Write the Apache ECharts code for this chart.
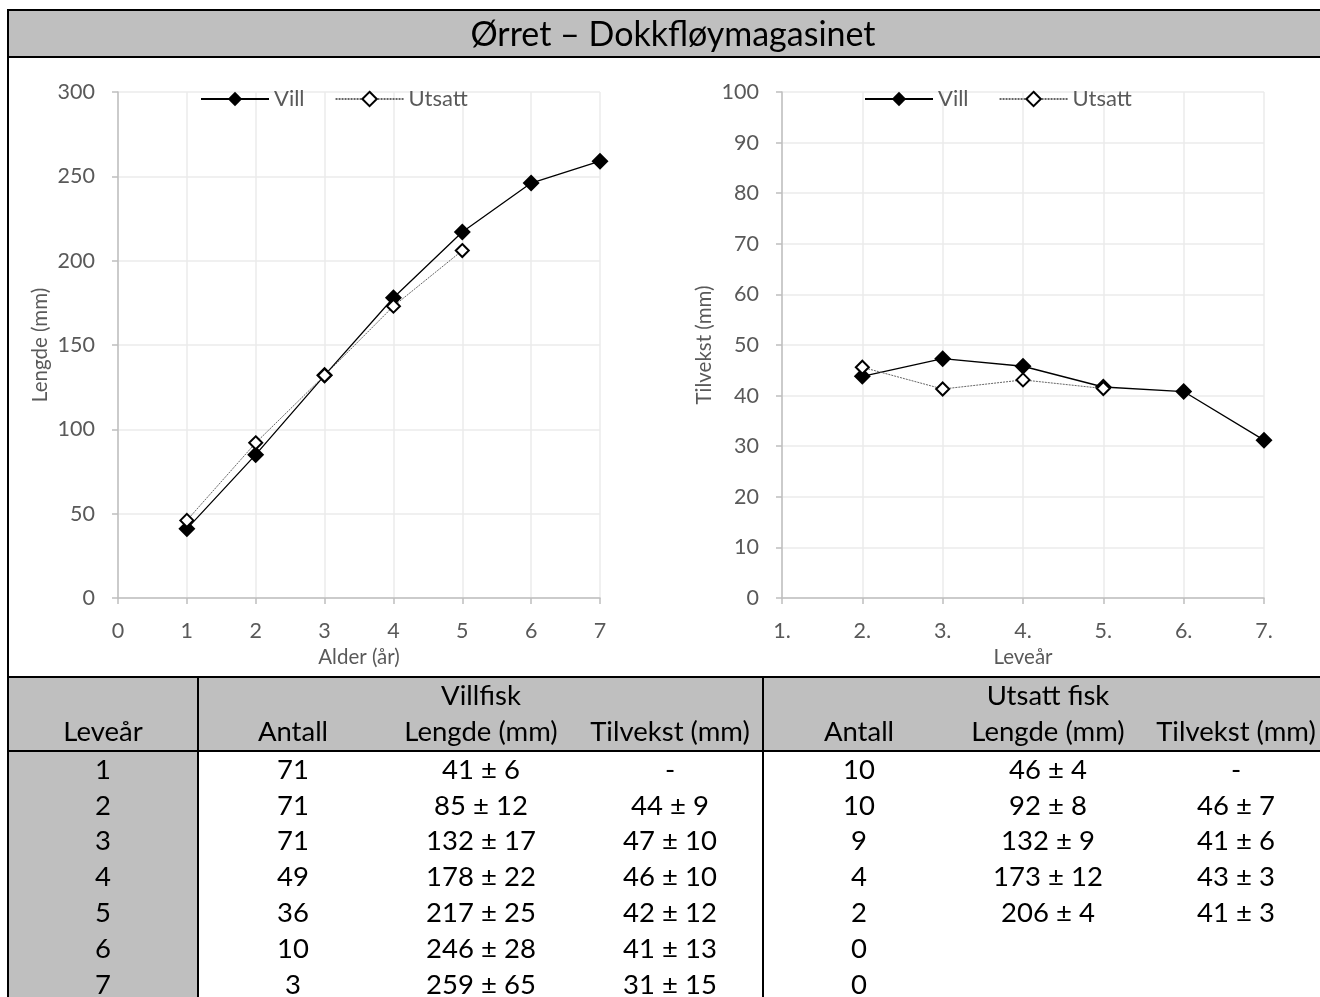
<!DOCTYPE html>
<html>
<head>
<meta charset="utf-8">
<script src="https://cdn.jsdelivr.net/npm/echarts@6/dist/echarts.min.js"></script>
<style>
html,body{margin:0;padding:0;background:#fff;}
#chart{width:1320px;height:997px;}
</style>
</head>
<body>
<div id="chart"></div>
<script>
// ---- chart data ----
const titleText = 'Ørret – Dokkfløymagasinet';
const ageTicks = [0, 1, 2, 3, 4, 5, 6, 7];
const villAge = [1, 2, 3, 4, 5, 6, 7];
const villLength = [41, 85, 132, 178, 217, 246, 259];
const utsattAge = [1, 2, 3, 4, 5];
const utsattLength = [46, 92, 132, 173, 206];
const villGrowthYear = [2, 3, 4, 5, 6, 7];
const villGrowth = [43.8, 47.3, 45.8, 41.7, 40.8, 31.2];
const utsattGrowthYear = [2, 3, 4, 5];
const utsattGrowth = [45.6, 41.3, 43.1, 41.4];

// ---- table data ----
const tableYears = ['1', '2', '3', '4', '5', '6', '7'];
const villAntall = ['71', '71', '71', '49', '36', '10', '3'];
const villLengde = ['41 ± 6', '85 ± 12', '132 ± 17', '178 ± 22', '217 ± 25', '246 ± 28', '259 ± 65'];
const villTilvekst = ['-', '44 ± 9', '47 ± 10', '46 ± 10', '42 ± 12', '41 ± 13', '31 ± 15'];
const utsattAntall = ['10', '10', '9', '4', '2', '0', '0'];
const utsattLengde = ['46 ± 4', '92 ± 8', '132 ± 9', '173 ± 12', '206 ± 4', '', ''];
const utsattTilvekst = ['-', '46 ± 7', '41 ± 6', '43 ± 3', '41 ± 3', '', ''];
const groupHeaders = ['Villfisk', 'Utsatt fisk'];
const colHeaders = ['Leveår', 'Antall', 'Lengde (mm)', 'Tilvekst (mm)', 'Antall', 'Lengde (mm)', 'Tilvekst (mm)'];

const FONT = 'Lato, "Noto Sans", sans-serif';
const GRAY = '#BFBFBF';
const LABEL = '#595959';

function pairs(xs, ys) { return xs.map((x, i) => [x, ys[i]]); }

// ---- graphic: frame, title band, table ----
const g = [];
g.push({type: 'rect', shape: {x: 8, y: 9, width: 1320, height: 48}, style: {fill: GRAY}, z: 0});
g.push({type: 'rect', shape: {x: 8, y: 677, width: 1320, height: 74}, style: {fill: GRAY}, z: 0});
g.push({type: 'rect', shape: {x: 8, y: 751, width: 190, height: 250}, style: {fill: GRAY}, z: 0});
function hline(y, x1, x2) { g.push({type: 'line', shape: {x1: x1, y1: y, x2: x2, y2: y}, style: {stroke: '#000', lineWidth: 2}, z: 5}); }
function vline(x, y1, y2) { g.push({type: 'line', shape: {x1: x, y1: y1, x2: x, y2: y2}, style: {stroke: '#000', lineWidth: 2}, z: 5}); }
hline(10, 8, 1320);
hline(57, 8, 1320);
hline(677, 8, 1320);
hline(751, 8, 1320);
vline(8, 9, 997);
vline(198, 677, 997);
vline(763, 677, 997);
g.push({type: 'text', x: 673, y: 35, style: {text: titleText, font: '34px ' + FONT, fill: '#000', align: 'center', verticalAlign: 'middle'}, z: 6});

const colX = [103, 293, 481, 670, 859, 1048, 1236];
const rowY = [770, 806, 841, 877, 913, 949, 985];
function cell(txt, x, y) {
  g.push({type: 'text', x: x, y: y, style: {text: txt, font: '27.5px ' + FONT, fill: '#000', align: 'center', verticalAlign: 'middle'}, z: 6});
}
cell(groupHeaders[0], colX[2], 696);
cell(groupHeaders[1], colX[5], 696);
colHeaders.forEach((h, i) => cell(h, colX[i], 732));
const cols = [tableYears, villAntall, villLengde, villTilvekst, utsattAntall, utsattLengde, utsattTilvekst];
cols.forEach((col, ci) => col.forEach((v, ri) => { if (v !== '') cell(v, colX[ci], rowY[ri]); }));

// ---- axes ----
function yAxis(gridIndex, max, interval, name) {
  return {
    type: 'value', gridIndex: gridIndex, min: 0, max: max, interval: interval,
    name: name, nameLocation: 'middle', nameGap: 67,
    nameTextStyle: {fontFamily: FONT, fontSize: 20.5, color: LABEL},
    axisLine: {show: true, lineStyle: {color: GRAY, width: 1.5}},
    axisTick: {show: true, length: 6, lineStyle: {color: GRAY, width: 1.5}},
    axisLabel: {fontFamily: FONT, fontSize: 21.5, color: LABEL, margin: 23},
    splitLine: {show: true, lineStyle: {color: '#EBEBEB', width: 1.5}}
  };
}
function xAxis(gridIndex, min, name, fmt) {
  return {
    type: 'value', gridIndex: gridIndex, min: min, max: 7, interval: 1,
    name: name, nameLocation: 'middle', nameGap: 48,
    nameTextStyle: {fontFamily: FONT, fontSize: 20.5, color: LABEL},
    axisLine: {show: true, lineStyle: {color: GRAY, width: 1.5}},
    axisTick: {show: true, length: 6, lineStyle: {color: GRAY, width: 1.5}},
    axisLabel: {fontFamily: FONT, fontSize: 21.5, color: LABEL, margin: 22, formatter: fmt},
    splitLine: {show: true, lineStyle: {color: '#EBEBEB', width: 1.5}}
  };
}

const villStyle = {
  symbol: 'diamond', symbolSize: 17,
  itemStyle: {color: '#000'},
  lineStyle: {color: '#000', width: 1.3, type: 'solid'}
};
const utsattStyle = {
  symbol: 'diamond', symbolSize: 13,
  itemStyle: {color: '#fff', borderColor: '#000', borderWidth: 2},
  lineStyle: {color: '#666', width: 1, type: [2, 1]}
};

function legend(left) {
  return {left: left, top: 88, padding: 0, itemWidth: 68, itemHeight: 18, itemGap: 30,
    data: ['Vill', 'Utsatt'], textStyle: {fontFamily: FONT, fontSize: 22, color: LABEL}};
}

const option = {
  animation: false,
  backgroundColor: '#fff',
  grid: [
    {left: 118, right: 720, top: 92, bottom: 399},
    {left: 782, right: 56, top: 92, bottom: 399}
  ],
  legend: [legend(200), legend(864)],
  xAxis: [
    xAxis(0, 0, 'Alder (år)', '{value}'),
    xAxis(1, 1, 'Leveår', '{value}.')
  ],
  yAxis: [
    yAxis(0, 300, 50, 'Lengde (mm)'),
    yAxis(1, 100, 10, 'Tilvekst (mm)')
  ],
  series: [
    Object.assign({type: 'line', name: 'Vill', xAxisIndex: 0, yAxisIndex: 0, data: pairs(villAge, villLength), z: 3}, villStyle),
    Object.assign({type: 'line', name: 'Utsatt', xAxisIndex: 0, yAxisIndex: 0, data: pairs(utsattAge, utsattLength), z: 4}, utsattStyle),
    Object.assign({type: 'line', name: 'Vill', xAxisIndex: 1, yAxisIndex: 1, data: pairs(villGrowthYear, villGrowth), z: 3}, villStyle),
    Object.assign({type: 'line', name: 'Utsatt', xAxisIndex: 1, yAxisIndex: 1, data: pairs(utsattGrowthYear, utsattGrowth), z: 4}, utsattStyle)
  ],
  graphic: g
};

const chart = echarts.init(document.getElementById('chart'), null, {renderer: 'canvas'});
chart.setOption(option);
</script>
</body>
</html>
